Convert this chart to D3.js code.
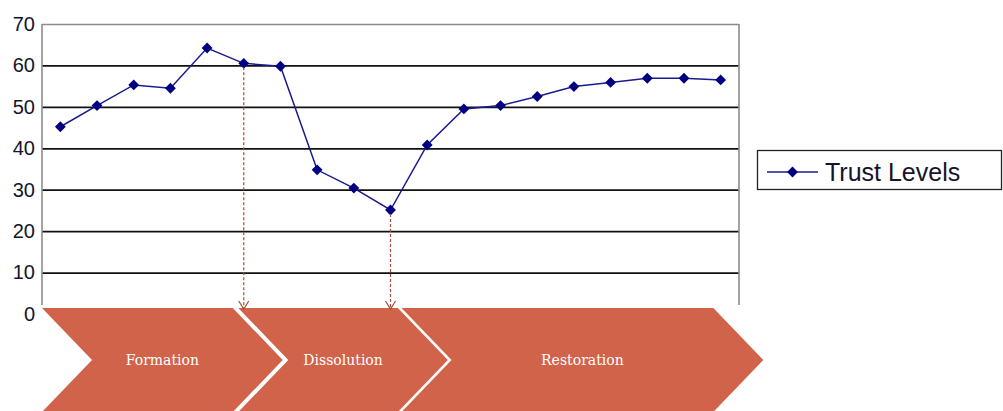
<!DOCTYPE html>
<html>
<head>
<meta charset="utf-8">
<script src="https://cdn.jsdelivr.net/npm/d3@7"></script>
<style>
  body { margin: 0; background: #fff; }
  svg { display: block; }
</style>
</head>
<body>
<div id="content"></div>
<script>
// data
const periods = d3.range(1, 20)
const trust = [45.2, 50.3, 55.3, 54.5, 64.2, 60.5, 59.8, 34.8, 30.4, 25.1, 40.8, 49.5, 50.3, 52.5, 54.9, 55.9, 56.9, 56.9, 56.5]
const yTicks = [0, 10, 20, 30, 40, 50, 60, 70]
const seriesName = "Trust Levels"

// phases: span in period-index units, plus the two turning points marked by arrows
const phaseNames = ["Formation", "Dissolution", "Restoration"]
const phaseStart = [-0.5, 4.85, 9.3]
const phaseEnd = [4.7, 9.2, 17.8]
const turningPoints = [5, 9]

const outerWidth = 1003
const outerHeight = 411
const margin = {top: 24, right: 264, bottom: 97, left: 42}
const width = outerWidth - margin.left - margin.right
const height = outerHeight - margin.top - margin.bottom

const svg = d3.select("#content").append("svg")
    .attr("width", outerWidth)
    .attr("height", outerHeight)

const wrapper = svg.append("g")
    .attr("transform", `translate(${margin.left}, ${margin.top})`)

// scales
const xScale = d3.scaleBand()
    .domain(periods)
    .range([0, width])
const xIndex = d3.scaleLinear()
    .domain([-0.5, periods.length - 0.5])
    .range([0, width])
const yScale = d3.scaleLinear()
    .domain([0, 70])
    .range([height, 0])

const cx = (d, i) => xScale(periods[i]) + xScale.bandwidth() / 2

// gridlines + labels
const yAxis = d3.axisLeft(yScale)
    .tickValues(yTicks)
    .tickSize(-width)
    .tickPadding(7)
    .tickSizeOuter(0)
const gy = wrapper.append("g").call(yAxis)
gy.select(".domain").remove()
gy.selectAll(".tick line")
    .attr("stroke", d => d === 70 ? "#8c8c8c" : "#111")
    .attr("stroke-width", d => d === 70 ? 1.6 : 1.7)
    .attr("display", d => d === 0 ? "none" : null)
gy.selectAll(".tick text")
    .attr("fill", "#14142a")
    .style("font-family", "'Liberation Sans', Arial, sans-serif")
    .style("font-size", "20px")

// left axis line and right border of plot
wrapper.append("line")
    .attr("x1", 0).attr("x2", 0)
    .attr("y1", 0).attr("y2", height - 9)
    .attr("stroke", "#8c8c8c").attr("stroke-width", 1.6)
wrapper.append("line")
    .attr("x1", width).attr("x2", width)
    .attr("y1", 0).attr("y2", height - 9)
    .attr("stroke", "#8c8c8c").attr("stroke-width", 1.6)

// series line
const line = d3.line()
    .x(cx)
    .y(d => yScale(d))

wrapper.append("path")
    .datum(trust)
    .attr("d", line)
    .attr("fill", "none")
    .attr("stroke", "#1a1a8c")
    .attr("stroke-width", 1.5)

const diamond = d3.symbol().type(d3.symbolDiamond2).size(75)
wrapper.selectAll(".pt")
    .data(trust)
    .join("path")
    .attr("class", "pt")
    .attr("d", diamond)
    .attr("transform", (d, i) => `translate(${cx(d, i)}, ${yScale(d)})`)
    .attr("fill", "#000080")

// phase chevrons
const chevTop = height - 6
const chevHalf = 52
const notch = 50
const chevrons = wrapper.append("g")
phaseNames.forEach((name, i) => {
    const x0 = xIndex(phaseStart[i])
    const x1 = xIndex(phaseEnd[i])
    const mid = chevTop + chevHalf
    const bot = chevTop + 2 * chevHalf
    const pts = [[x0, chevTop], [x1, chevTop], [x1 + notch, mid], [x1, bot], [x0, bot], [x0 + notch, mid]]
    chevrons.append("path")
        .attr("d", d3.line()(pts) + "Z")
        .attr("fill", "#d0634a")
    chevrons.append("text")
        .attr("x", (x0 + x1 + notch) / 2)
        .attr("y", mid + 5)
        .attr("text-anchor", "middle")
        .attr("fill", "#fff")
        .style("font-family", "'DejaVu Serif', serif")
        .style("font-size", "14px")
        .text(name)
})

// dashed arrows from turning points down to the phase boundaries
turningPoints.forEach(i => {
    const x = cx(trust[i], i)
    const y0 = yScale(trust[i]) + 4
    const y1 = chevTop + 1
    wrapper.append("line")
        .attr("x1", x).attr("x2", x)
        .attr("y1", y0).attr("y2", y1)
        .attr("stroke", "#a0503c")
        .attr("stroke-width", 1.2)
        .attr("stroke-dasharray", "3,2")
    wrapper.append("path")
        .attr("d", `M${x - 5},${y1 - 8}L${x},${y1}L${x + 5},${y1 - 8}`)
        .attr("fill", "none")
        .attr("stroke", "#a0503c")
        .attr("stroke-width", 1.2)
})

// legend
const legend = svg.append("g")
    .attr("transform", "translate(757, 150)")
legend.append("rect")
    .attr("x", 0.5).attr("y", 0.5)
    .attr("width", 244).attr("height", 39)
    .attr("fill", "#fff")
    .attr("stroke", "#222")
    .attr("stroke-width", 1.3)
legend.append("line")
    .attr("x1", 10).attr("x2", 61)
    .attr("y1", 22).attr("y2", 22)
    .attr("stroke", "#1a1a8c").attr("stroke-width", 1.5)
legend.append("path")
    .attr("d", diamond)
    .attr("transform", "translate(35.5, 22)")
    .attr("fill", "#000080")
legend.append("text")
    .attr("x", 68).attr("y", 31)
    .attr("fill", "#14142a")
    .style("font-family", "'Liberation Sans', Arial, sans-serif")
    .style("font-size", "25px")
    .text(seriesName)
</script>
</body>
</html>
